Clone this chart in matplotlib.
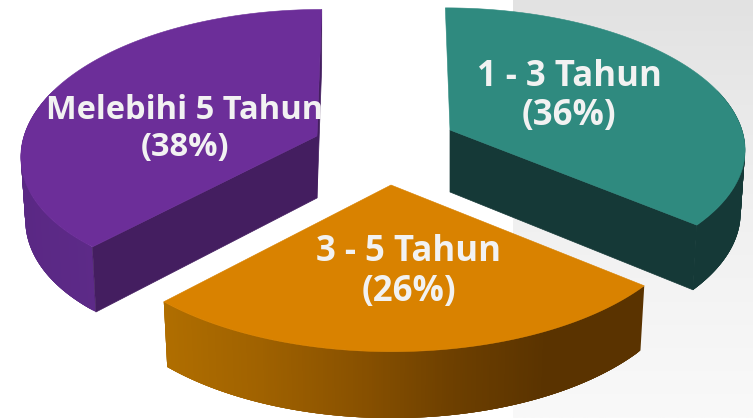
#!/usr/bin/env python3
# coding=utf-8
import numpy as np
import matplotlib
matplotlib.use('Agg')
import matplotlib.pyplot as plt
from matplotlib.collections import PolyCollection
from matplotlib.colors import LinearSegmentedColormap
from matplotlib.patches import Polygon

names = ['1 - 3 Tahun', '3 - 5 Tahun', 'Melebihi 5 Tahun']
shares = [36, 26, 38]

top_colors = ['#2f8a7f', '#d98200', '#6c2e99']
face_colors = ['#153937', '#5a3300', '#441e60']
side_stops = [
    ['#153937', '#153937'],
    ['#b06e00', '#a06200', '#8a5200', '#6e4000', '#5a3300', '#5a3300'],
    ['#5a2884', '#602c8c', '#5e2a8a'],
]
apex = [(450, 130), (391, 185), (317, 136)]
radius_x = [292, 301, 293]
radius_y = [138, 145, 143]
pinch_x = [0.02, 0.0, 0.01]
pinch_y = [0.02, 0.0, 0.07]
label_pos = [(569, 96.5), (409, 272), (185, 129)]
label_size = [25, 25, 23.5]

center_x = 384
persp = 0.13
depth = 62
shrink = 0.985


def project(t, i, lower=False):
    ax0, ay0 = apex[i]
    f = -np.cos(t)
    f2 = np.clip(f, 0, None) ** 2
    s = 1 / (1 - persp * f)
    px = center_x + (ax0 - center_x) * s ** 0.6 + np.sin(t) * radius_x[i] * (1 - pinch_x[i] * f2) * s
    py = ay0 + radius_y[i] * f * (1 - pinch_y[i] * f2) * s
    if lower:
        px = ax0 + (px - ax0) * shrink
        py = py + depth * np.sqrt(s)
    return px, py


def draw_slice(ax, i, t0, t1):
    ts = np.linspace(t0, t1, 240)
    tx, ty = project(ts, i)
    bx, by = project(ts, i, lower=True)
    top = np.column_stack([tx, ty])
    low = np.column_stack([bx, by])
    a_top = apex[i]
    a_low = (apex[i][0], apex[i][1] + depth)

    # outer wall as overlapping strips, coloured across x
    cmap = LinearSegmentedColormap.from_list('side%d' % i, side_stops[i])
    x0, x1 = min(tx.min(), bx.min()), max(tx.max(), bx.max())
    quads = []
    cols = []
    for k in range(len(ts) - 1):
        if -np.cos(ts[k]) < -0.3:
            continue
        k2 = min(k + 4, len(ts) - 1)
        quads.append([top[k], top[k2], low[k2], low[k]])
        cols.append(cmap((tx[k] - x0) / (x1 - x0)))
    ax.add_collection(PolyCollection(quads, facecolors=cols, edgecolors='none', zorder=3))

    # cut faces that can be seen
    k_faces = {0: [-1], 1: [], 2: [0, -1]}[i]
    for k in k_faces:
        face = [a_top, top[k], low[k], a_low]
        ax.add_patch(Polygon(face, closed=True, fc=face_colors[i], ec=face_colors[i], lw=0.5, zorder=4))

    surf = np.vstack([[a_top], top])
    ax.add_patch(Polygon(surf, closed=True, fc=top_colors[i], ec=top_colors[i], lw=0.4, zorder=5))


fig = plt.figure(figsize=(7.53, 4.18), dpi=100)
ax = fig.add_axes([0, 0, 1, 1])

bg = LinearSegmentedColormap.from_list('bg', ['#e2e2e2', '#f0f0f0', '#f9f9f9'])
ax.imshow(np.linspace(0, 1, 256).reshape(-1, 1), cmap=bg,
          extent=[513, 753, 418, 0], aspect='auto', zorder=0)

start = 0.0
for i, share in enumerate(shares):
    end = start + share / sum(shares) * 2 * np.pi
    draw_slice(ax, i, start, end)
    (lx, ly) = label_pos[i]
    ax.text(lx, ly, '%s\n(%d%%)' % (names[i], share), ha='center', va='center',
            color='#f2f2f2', fontsize=label_size[i], fontweight='bold', family='Open Sans',
            linespacing=1.12 * 25 / label_size[i], zorder=6)
    start = end

ax.set_xlim(0, 753)
ax.set_ylim(418, 0)
ax.axis('off')

fig.savefig('out.png', dpi=100)
